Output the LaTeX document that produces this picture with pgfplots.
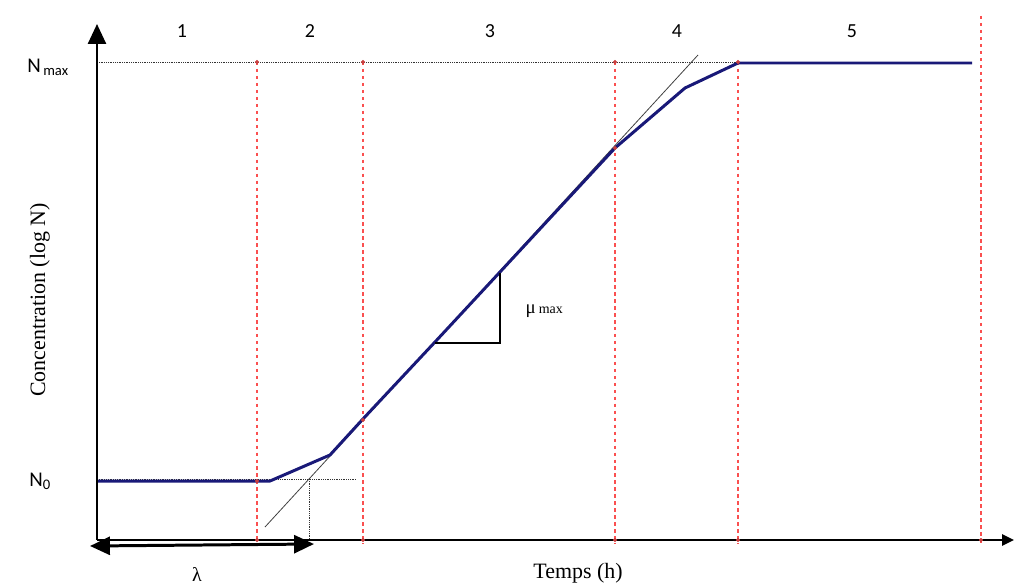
\documentclass[border=0pt]{standalone}
\usepackage{fontspec}
\setmainfont{Liberation Serif}
\newfontfamily\calibri{Carlito}
\usepackage{pgfplots}
\pgfplotsset{compat=1.18}
\usetikzlibrary{arrows.meta}
\definecolor{curveblue}{RGB}{25,25,120}
\definecolor{phasered}{RGB}{250,80,80}
\begin{document}
\begin{tikzpicture}
\begin{axis}[
  width=1016bp, height=586bp, scale only axis,
  xmin=0, xmax=1016, ymin=0, ymax=586,
  hide axis, clip=false,
]
% bounding frame (invisible)
\path (axis cs:0,0) rectangle (axis cs:1016,586);
% phase boundaries
\foreach \xx in {257,363,615,738} {
  \edef\tmp{\noexpand\addplot[phasered, line width=1.4pt, dash pattern=on 3.5pt off 3.5pt] coordinates {(\xx,524) (\xx,42)};}
  \tmp
}
\addplot[phasered, line width=1.4pt, dash pattern=on 3.5pt off 3.5pt] coordinates {(981,570) (981,42)};
% reference dotted lines
\addplot[black!80, line width=0.8pt, densely dotted] coordinates {(97,524) (738,524)};
\addplot[black!80, line width=0.8pt, densely dotted] coordinates {(97,107) (357,107)};
\addplot[black!80, line width=0.8pt, densely dotted] coordinates {(309,107) (309,46)};
% tangent
\addplot[black!75, line width=0.8pt] coordinates {(265,59) (698,531)};
% growth curve
\addplot[curveblue, line width=3pt, line join=round] coordinates {
  (97,105) (270,105) (330,131) (362,166) (435,244) (500,314) (615,438) (685,498) (738,523) (972,523)};
% triangle for mu max
\addplot[black, line width=2.2pt] coordinates {(435,243) (500,243) (500,313)};
% red markers
\addplot[only marks, mark=*, mark size=1.8pt, phasered!80!black] coordinates {
  (257,524) (363,524) (615,524) (738,524) (257,46) (363,46) (615,46) (738,46) (981,46) (615,438) (363,166) (257,105)};
% axes
\draw[black, line width=2.6pt, -{Triangle[length=20pt,width=18pt]}] (axis cs:97,46) -- (axis cs:97,562);
\draw[black, line width=2.6pt, -{Triangle[length=12pt,width=11pt]}] (axis cs:97,46) -- (axis cs:1014,46);
% lambda arrow
\draw[black, line width=3pt, {Triangle[length=20pt,width=18pt]}-{Triangle[length=20pt,width=18pt]}] (axis cs:90,40) -- (axis cs:314,42);
% labels
\node[font=\fontsize{20}{24}\selectfont] at (axis cs:197,12) {λ};
\node[font=\fontsize{22}{26}\selectfont] at (axis cs:578,13) {Temps (h)};
\node[font=\fontsize{22}{26}\selectfont, rotate=90] at (axis cs:40,286) {Concentration (log N)};
\node[font=\calibri\fontsize{21}{24}\selectfont] at (axis cs:48,519) {N\textsubscript{\,max}};
\node[font=\calibri\fontsize{21}{24}\selectfont] at (axis cs:40,105) {N\textsubscript{0}};
\node[font=\fontsize{19}{20}\selectfont, anchor=west] at (axis cs:522,275) {μ\,\fontsize{14}{16}\selectfont max};
\foreach \xx/\lab in {182/1,310/2,490/3,677/4,852/5} {
  \edef\tmp{\noexpand\node[font=\noexpand\calibri\noexpand\fontsize{20}{24}\noexpand\selectfont] at (axis cs:\xx,555) {\lab};}
  \tmp
}
\end{axis}
\end{tikzpicture}
\end{document}
